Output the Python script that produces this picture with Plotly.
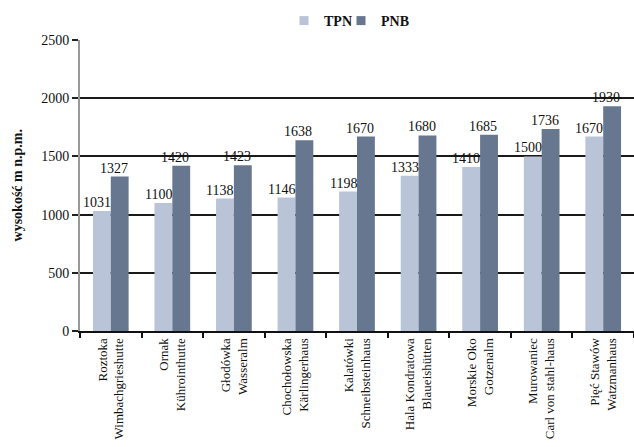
import plotly.graph_objects as go

categories = [
    "Roztoka<br>Wimbachgrieshutte",
    "Ornak<br>Kührointhutte",
    "Głodówka<br>Wasseralm",
    "Chochołowska<br>Kärlingerhaus",
    "Kalatówki<br>Schneibsteinhaus",
    "Hala Kondratowa<br>Blaueishütten",
    "Morskie Oko<br>Gotzenalm",
    "Murowaniec<br>Carl von stahl-haus",
    "Pięć Stawów<br>Watzmanhaus",
]
tpn = [1031, 1100, 1138, 1146, 1198, 1333, 1410, 1500, 1670]
pnb = [1327, 1420, 1423, 1638, 1670, 1680, 1685, 1736, 1930]
y_title = "wysokość m n.p.m."

FONT = "Liberation Serif"
C_TPN = "#B9C4D8"
C_PNB = "#66778F"

fig = go.Figure()
fig.add_trace(go.Bar(name="TPN", x=categories, y=tpn, marker_color=C_TPN,
                     marker_line_width=0, offsetgroup="a", showlegend=False))
fig.add_trace(go.Bar(name="PNB", x=categories, y=pnb, marker_color=C_PNB,
                     marker_line_width=0, offsetgroup="b", showlegend=False))
# legend-only entries with small square swatches
fig.add_trace(go.Scatter(name="TPN", x=[None], y=[None], mode="markers",
                         marker=dict(symbol="square", size=9, color=C_TPN), legend="legend"))
fig.add_trace(go.Scatter(name="PNB", x=[None], y=[None], mode="markers",
                         marker=dict(symbol="square", size=9, color=C_PNB), legend="legend2"))

annotations = []
for c, v in zip(categories, tpn):
    annotations.append(dict(x=c, y=v, text=str(v), showarrow=False, xref="x", yref="y",
                            yanchor="bottom", xshift=-14, yshift=-1,
                            font=dict(family=FONT, size=14, color="#111")))
for c, v in zip(categories, pnb):
    annotations.append(dict(x=c, y=v, text=str(v), showarrow=False, xref="x", yref="y",
                            yanchor="bottom", xshift=3, yshift=-1,
                            font=dict(family=FONT, size=14, color="#111")))
annotations.append(dict(text="<b>" + y_title + "</b>", xref="paper", yref="paper",
                        x=-0.112, y=0.5, xanchor="center", yanchor="middle", textangle=-90,
                        showarrow=False, font=dict(family=FONT, size=14, color="#111")))

leg_font = dict(family=FONT, size=14, color="#111", weight="bold")
fig.update_layout(
    width=634, height=447,
    margin=dict(l=80, r=0, t=40, b=116, autoexpand=False),
    paper_bgcolor="white", plot_bgcolor="white",
    barmode="group", bargap=0.42, bargroupgap=0,
    font=dict(family=FONT, size=14, color="#111"),
    legend=dict(x=284 / 634, xref="container", xanchor="left",
                y=1 - 5 / 447, yref="container", yanchor="top",
                font=leg_font, itemwidth=30, bgcolor="rgba(0,0,0,0)"),
    legend2=dict(x=341 / 634, xref="container", xanchor="left",
                 y=1 - 5 / 447, yref="container", yanchor="top",
                 font=leg_font, itemwidth=30, bgcolor="rgba(0,0,0,0)"),
    annotations=annotations,
    showlegend=True,
    hovermode=False,
)
fig.update_xaxes(
    automargin=False,
    tickangle=-90, showline=True, linecolor="#111", linewidth=2,
    ticks="outside", tickson="boundaries", ticklen=5, tickwidth=2, tickcolor="#111",
    tickfont=dict(family=FONT, size=13, color="#111"), showgrid=False,
)
fig.update_yaxes(
    automargin=False,
    range=[0, 2500], dtick=500, showgrid=True, gridcolor="#1a1a1a", gridwidth=2,
    showline=True, linecolor="#999", linewidth=2, zeroline=False,
    ticks="outside", ticklen=6, tickwidth=2, tickcolor="#222",
    tickfont=dict(family=FONT, size=14, color="#111"),
)

fig.write_html("out.html", config={"displayModeBar": False},
               post_script="document.body.style.margin='0px';document.body.style.overflow='hidden';")
